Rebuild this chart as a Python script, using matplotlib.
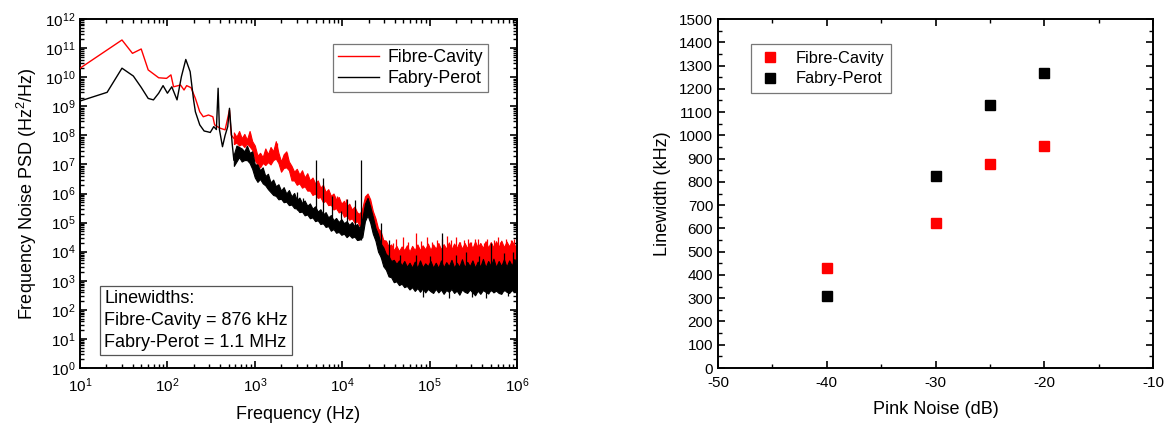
import numpy as np
import matplotlib
matplotlib.use("Agg")
import matplotlib.pyplot as plt
from matplotlib.ticker import LogLocator, MultipleLocator, NullFormatter

plt.rcParams['font.family'] = ['Liberation Sans', 'DejaVu Sans']
plt.rcParams['mathtext.fontset'] = 'custom'
plt.rcParams['mathtext.rm'] = 'Liberation Sans'
plt.rcParams['mathtext.it'] = 'Liberation Sans:italic'
plt.rcParams['axes.unicode_minus'] = False

# ---------------- Left panel data (log10 frequency, log10 PSD) ----------------
# low-frequency traces
fc_low_logf = [1.00, 1.48, 1.60, 1.70, 1.78, 1.90, 1.99, 2.04, 2.07, 2.15, 2.19, 2.22,
               2.27, 2.32, 2.37, 2.41, 2.47, 2.52, 2.54, 2.60, 2.66, 2.71, 2.73, 2.76]
fc_low_logp = [10.31, 11.28, 10.82, 10.97, 10.25, 9.98, 9.96, 10.08, 9.67, 9.73, 9.56, 9.71,
               9.64, 9.27, 8.81, 8.64, 8.70, 8.64, 8.36, 8.25, 8.19, 8.87, 8.01, 7.90]

fp_low_logf = [1.00, 1.31, 1.48, 1.61, 1.70, 1.78, 1.84, 1.90, 1.95, 2.00, 2.05, 2.11,
               2.16, 2.21, 2.26, 2.30, 2.32, 2.37, 2.42, 2.45, 2.49, 2.53, 2.56, 2.58,
               2.595, 2.63, 2.66, 2.69, 2.71, 2.74, 2.76]
fp_low_logp = [9.18, 9.48, 10.31, 10.04, 9.65, 9.27, 9.22, 9.45, 9.71, 9.45, 9.67, 9.22,
               10.02, 10.61, 10.19, 9.20, 8.81, 8.36, 8.15, 8.13, 8.10, 8.30, 8.20, 9.62,
               8.20, 7.61, 8.00, 8.30, 8.93, 7.74, 7.15]

# dense noisy region: band upper / lower edges
band_logf = [2.76, 2.79, 2.82, 2.85, 2.88, 2.91, 2.94, 2.97, 3.00, 3.03,
             3.06, 3.09, 3.12, 3.15, 3.18, 3.21, 3.24, 3.27, 3.30, 3.33,
             3.36, 3.39, 3.42, 3.45, 3.48, 3.51, 3.54, 3.57, 3.60, 3.63,
             3.66, 3.69, 3.72, 3.75, 3.78, 3.81, 3.84, 3.87, 3.90, 3.93,
             3.96, 3.99, 4.02, 4.05, 4.08, 4.11, 4.14, 4.17, 4.20, 4.23,
             4.26, 4.29, 4.32, 4.35, 4.38, 4.41, 4.44, 4.47, 4.50, 4.53,
             4.56, 4.59, 4.62, 4.65, 4.68, 4.71, 4.74, 4.77, 4.80, 4.83,
             4.86, 4.89, 4.92, 4.95, 4.98, 5.01, 5.04, 5.07, 5.10, 5.13,
             5.16, 5.19, 5.22, 5.25, 5.28, 5.31, 5.34, 5.37, 5.40, 5.43,
             5.46, 5.49, 5.52, 5.55, 5.58, 5.61, 5.64, 5.67, 5.70, 5.73,
             5.76, 5.79, 5.82, 5.85, 5.88, 5.91, 5.94, 5.97, 6.00]

fc_band_hi = [8.10, 7.95, 8.15, 7.90, 8.05, 7.85, 8.15, 7.80, 7.65, 7.30,
              7.40, 7.25, 7.55, 7.35, 7.60, 7.45, 7.80, 7.40, 7.10, 7.35,
              7.45, 7.10, 6.95, 6.75, 6.85, 6.65, 6.80, 6.55, 6.70, 6.45,
              6.55, 6.35, 6.45, 6.20, 6.30, 6.05, 6.15, 5.92, 6.00, 5.80,
              5.88, 5.65, 5.75, 5.55, 5.65, 5.45, 5.55, 5.35, 5.30, 5.50,
              5.90, 6.00, 5.80, 5.40, 5.15, 4.80, 4.70, 4.40, 4.38, 4.18,
              4.25, 4.05, 4.20, 4.02, 4.18, 4.05, 4.22, 4.00, 4.20, 4.05,
              4.25, 4.05, 4.22, 4.08, 4.28, 4.06, 4.25, 4.10, 4.30, 4.08,
              4.26, 4.10, 4.32, 4.08, 4.28, 4.12, 4.33, 4.10, 4.30, 4.12,
              4.32, 4.12, 4.35, 4.15, 4.30, 4.12, 4.36, 4.14, 4.33, 4.15,
              4.36, 4.16, 4.38, 4.15, 4.35, 4.18, 4.38, 4.16, 4.34]
fc_band_lo = [7.70, 7.75, 7.65, 7.70, 7.60, 7.72, 7.62, 7.50, 7.15, 7.00,
              6.90, 7.05, 6.98, 7.08, 7.00, 7.15, 7.20, 7.05, 6.75, 6.88,
              6.90, 6.80, 6.45, 6.45, 6.30, 6.35, 6.20, 6.25, 6.10, 6.10,
              5.95, 6.00, 5.85, 5.88, 5.70, 5.75, 5.60, 5.62, 5.45, 5.50,
              5.35, 5.40, 5.20, 5.25, 5.10, 5.15, 5.00, 5.05, 4.88, 5.00,
              5.40, 5.50, 5.30, 4.95, 4.70, 4.40, 4.20, 4.00, 3.85, 3.75,
              3.60, 3.55, 3.50, 3.50, 3.45, 3.45, 3.45, 3.45, 3.45, 3.45,
              3.45, 3.45, 3.45, 3.45, 3.45, 3.45, 3.45, 3.45, 3.45, 3.45,
              3.45, 3.45, 3.45, 3.45, 3.45, 3.45, 3.45, 3.45, 3.45, 3.45,
              3.45, 3.45, 3.45, 3.45, 3.45, 3.45, 3.45, 3.45, 3.45, 3.45,
              3.45, 3.45, 3.45, 3.45, 3.45, 3.45, 3.45, 3.45, 3.45]

fp_band_hi = [7.35, 7.65, 7.60, 7.55, 7.45, 7.65, 7.40, 7.45, 7.00, 7.00,
              6.80, 6.90, 6.60, 6.68, 6.38, 6.48, 6.25, 6.32, 6.10, 6.22,
              6.00, 6.12, 5.90, 6.02, 5.78, 5.86, 5.68, 5.76, 5.58, 5.66,
              5.48, 5.56, 5.38, 5.46, 5.28, 5.36, 5.18, 5.26, 5.08, 5.16,
              5.02, 5.12, 4.98, 5.05, 4.92, 5.02, 4.88, 4.95, 4.80, 5.15,
              5.65, 5.85, 5.55, 5.20, 4.82, 4.60, 4.28, 4.15, 3.92, 3.85,
              3.68, 3.72, 3.58, 3.70, 3.52, 3.68, 3.48, 3.62, 3.45, 3.66,
              3.44, 3.70, 3.46, 3.60, 3.50, 3.68, 3.45, 3.62, 3.44, 3.70,
              3.46, 3.64, 3.50, 3.72, 3.45, 3.62, 3.48, 3.74, 3.46, 3.65,
              3.50, 3.70, 3.45, 3.66, 3.48, 3.75, 3.46, 3.68, 3.50, 3.76,
              3.47, 3.68, 3.50, 3.74, 3.48, 3.70, 3.52, 3.75, 3.50]
fp_band_lo = [6.95, 7.10, 7.25, 7.10, 7.15, 7.15, 7.05, 6.85, 6.55, 6.40,
              6.50, 6.35, 6.28, 6.15, 6.05, 5.95, 5.92, 5.80, 5.82, 5.70,
              5.72, 5.60, 5.62, 5.50, 5.48, 5.36, 5.38, 5.25, 5.28, 5.15,
              5.18, 5.05, 5.08, 4.95, 4.98, 4.85, 4.88, 4.72, 4.78, 4.65,
              4.68, 4.58, 4.62, 4.50, 4.58, 4.48, 4.52, 4.40, 4.42, 4.50,
              5.05, 5.25, 5.00, 4.62, 4.38, 4.00, 3.82, 3.50, 3.38, 3.15,
              3.12, 2.95, 2.98, 2.85, 2.90, 2.78, 2.82, 2.70, 2.78, 2.65,
              2.75, 2.62, 2.74, 2.60, 2.72, 2.64, 2.58, 2.72, 2.60, 2.70,
              2.55, 2.68, 2.62, 2.72, 2.58, 2.66, 2.52, 2.70, 2.62, 2.58,
              2.70, 2.60, 2.50, 2.66, 2.55, 2.68, 2.62, 2.56, 2.70, 2.60,
              2.66, 2.58, 2.55, 2.70, 2.62, 2.58, 2.68, 2.62, 2.66]

# isolated spikes rising out of the noise band (log10 f, base, top)
fc_spike_logf = [2.95, 3.25, 3.37, 3.60, 3.94, 4.04, 4.58, 4.62, 4.70, 4.75, 4.84,
                 4.90, 4.97, 5.03, 5.09, 5.14, 5.20, 5.25, 5.30, 5.35, 5.39, 5.44,
                 5.47, 5.52, 5.55, 5.62, 5.66, 5.74, 5.78, 5.81, 5.87, 5.93, 5.97]
fc_spike_base = [7.70, 7.20, 6.90, 6.20, 5.45, 5.25, 3.60, 3.60, 3.60, 3.60, 3.60,
                 3.60, 3.60, 3.60, 3.60, 3.60, 3.60, 3.60, 3.60, 3.60, 3.60, 3.60,
                 3.60, 3.60, 3.60, 3.60, 3.60, 3.60, 3.60, 3.60, 3.60, 3.60, 3.60]
fc_spike_top = [8.07, 7.73, 7.38, 6.60, 5.90, 5.80, 4.30, 4.45, 4.52, 4.35, 4.64,
                4.38, 4.50, 4.35, 4.40, 4.45, 4.55, 4.40, 4.50, 4.35, 4.40, 4.45,
                4.35, 4.42, 4.45, 4.30, 4.45, 4.40, 4.50, 4.35, 4.42, 4.40, 4.45]

fp_spike_logf = [3.48, 3.55, 3.70, 3.78, 3.88, 3.99, 4.05, 4.15, 4.22, 4.44, 4.53,
                 4.66, 4.84, 5.00, 5.14, 5.30, 5.42, 5.56, 5.70, 5.85, 5.95,
                 4.92, 5.22, 5.48, 5.64, 5.90]
fp_spike_base = [5.45, 5.40, 5.10, 4.95, 4.75, 4.65, 4.55, 4.50, 4.40, 3.80, 3.20,
                 2.90, 2.70, 2.70, 2.65, 2.65, 2.65, 2.65, 2.65, 2.65, 2.65,
                 2.80, 2.80, 2.80, 2.80, 2.80]
fp_spike_top = [6.05, 5.85, 7.15, 6.53, 5.90, 5.40, 5.80, 5.78, 7.15, 5.00, 4.40,
                3.90, 3.90, 3.85, 4.64, 3.90, 4.00, 3.85, 4.30, 3.95, 4.00,
                2.45, 2.40, 2.45, 2.42, 2.48]

# ---------------- Right panel data ----------------
pink_noise_db = [-40, -30, -25, -20]
lw_fibre_cavity = [430, 625, 875, 955]
lw_fabry_perot = [310, 825, 1130, 1270]

series_labels = ["Fibre-Cavity", "Fabry-Perot"]
series_colors = ["#ff0000", "#000000"]


def p10(a):
    return 10.0 ** np.asarray(a, dtype=float)


fig = plt.figure(figsize=(11.70, 4.23), dpi=100)

# ---------------- Left panel ----------------
ax1 = fig.add_axes([0.0684, 0.130, 0.3735, 0.825])
groups = [
    (fc_low_logf, fc_low_logp, fc_band_hi, fc_band_lo, fc_spike_logf, fc_spike_base, fc_spike_top),
    (fp_low_logf, fp_low_logp, fp_band_hi, fp_band_lo, fp_spike_logf, fp_spike_base, fp_spike_top),
]
for i, (lf, lp, bhi, blo, sf, sb, st) in enumerate(groups):
    col = series_colors[i]
    z = 2 + 2 * i
    ax1.fill_between(p10(band_logf), p10(blo), p10(bhi), color=col, lw=0.8,
                     edgecolor=col, zorder=z)
    ax1.vlines(p10(sf), p10(sb), p10(st), color=col, lw=0.9, zorder=z)
    ax1.plot(p10(lf), p10(lp), color=col, lw=1.0, label=series_labels[i], zorder=z + 1)

ax1.set_xscale('log')
ax1.set_yscale('log')
ax1.set_xlim(10, 1e6)
ax1.set_ylim(1, 1e12)
ax1.xaxis.set_major_locator(LogLocator(base=10, numticks=20))
ax1.yaxis.set_major_locator(LogLocator(base=10, numticks=20))
ax1.xaxis.set_minor_locator(LogLocator(base=10, subs=np.arange(2, 10), numticks=200))
ax1.yaxis.set_minor_locator(LogLocator(base=10, subs=np.arange(2, 10), numticks=200))
ax1.xaxis.set_minor_formatter(NullFormatter())
ax1.yaxis.set_minor_formatter(NullFormatter())
ax1.set_xlabel("Frequency (Hz)", fontsize=13, labelpad=8)
ax1.set_ylabel("Frequency Noise PSD (Hz$^2$/Hz)", fontsize=13, labelpad=4)
leg1 = ax1.legend(loc='upper right', bbox_to_anchor=(0.934, 0.928), borderaxespad=0,
                  fontsize=12.8, frameon=True, fancybox=False, edgecolor='#555555',
                  handlelength=2.3, borderpad=0.3, labelspacing=0.2, handletextpad=0.45)
leg1.get_frame().set_linewidth(0.9)
ax1.text(0.055, 0.05, "Linewidths:\nFibre-Cavity = 876 kHz\nFabry-Perot = 1.1 MHz",
         transform=ax1.transAxes, fontsize=13, va='bottom', ha='left', linespacing=1.35,
         bbox=dict(boxstyle='square,pad=0.22', fc='white', ec='#555555', lw=0.9), zorder=10)

# ---------------- Right panel ----------------
ax2 = fig.add_axes([0.6137, 0.130, 0.3718, 0.825])
ax2.plot(pink_noise_db, lw_fibre_cavity, ls='none', marker='s', ms=6.5,
         color=series_colors[0], label=series_labels[0])
ax2.plot(pink_noise_db, lw_fabry_perot, ls='none', marker='s', ms=6.5,
         color=series_colors[1], label=series_labels[1])
ax2.set_xlim(-50, -10)
ax2.set_ylim(0, 1500)
ax2.xaxis.set_major_locator(MultipleLocator(10))
ax2.xaxis.set_minor_locator(MultipleLocator(5))
ax2.yaxis.set_major_locator(MultipleLocator(100))
ax2.yaxis.set_minor_locator(MultipleLocator(50))
ax2.set_xlabel("Pink Noise (dB)", fontsize=13, labelpad=8)
ax2.set_ylabel("Linewidth (kHz)", fontsize=13, labelpad=6)
leg2 = ax2.legend(loc='upper left', bbox_to_anchor=(0.076, 0.928), borderaxespad=0,
                  fontsize=11.8, frameon=True, fancybox=False, edgecolor='#555555',
                  handlelength=1.5, borderpad=0.4, labelspacing=0.35, handletextpad=0.8)
leg2.get_frame().set_linewidth(0.9)

for ax in (ax1, ax2):
    for s in ax.spines.values():
        s.set_linewidth(1.4)
    ax.tick_params(which='both', direction='in', top=True, right=True, labelsize=11)
    ax.tick_params(which='major', length=5, width=1.2)
    ax.tick_params(which='minor', length=3, width=1.0)
    ax.tick_params(axis='x', pad=6)

fig.savefig("out.png", dpi=100)
